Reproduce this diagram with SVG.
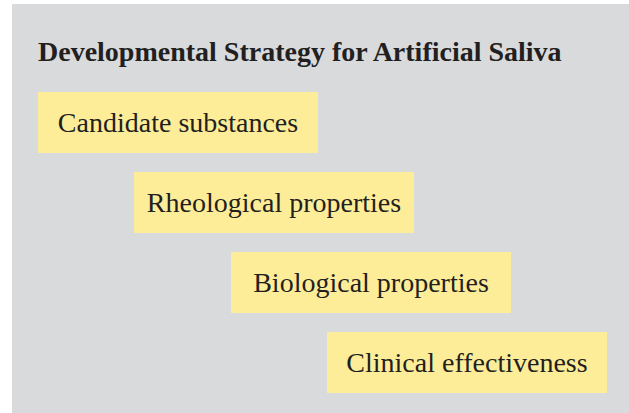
<svg xmlns="http://www.w3.org/2000/svg" width="629" height="413" viewBox="0 0 629 413">
<style>
.bg{fill:#d9dadc}
.box{fill:#feed98}
.t{font-family:"Liberation Serif","Times New Roman",serif;font-size:28px;fill:#231f20;text-anchor:middle}
.title{font-family:"Liberation Serif","Times New Roman",serif;font-size:28px;font-weight:bold;fill:#231f20}
</style>
<rect width="629" height="413" fill="#ffffff"/>
<rect class="bg" x="12" y="4" width="617" height="409"/>
<text class="title" x="38" y="61">Developmental Strategy for Artificial Saliva</text>
<g id="n1"><rect class="box" x="38" y="92" width="280" height="61"/><text class="t" x="178" y="132">Candidate substances</text></g>
<g id="n2"><rect class="box" x="134" y="172" width="280" height="61"/><text class="t" x="274" y="212">Rheological properties</text></g>
<g id="n3"><rect class="box" x="231" y="252" width="280" height="61"/><text class="t" x="371" y="292">Biological properties</text></g>
<g id="n4"><rect class="box" x="327" y="332" width="280" height="61"/><text class="t" x="467" y="372">Clinical effectiveness</text></g>
<g id="connectors"></g>
</svg>
